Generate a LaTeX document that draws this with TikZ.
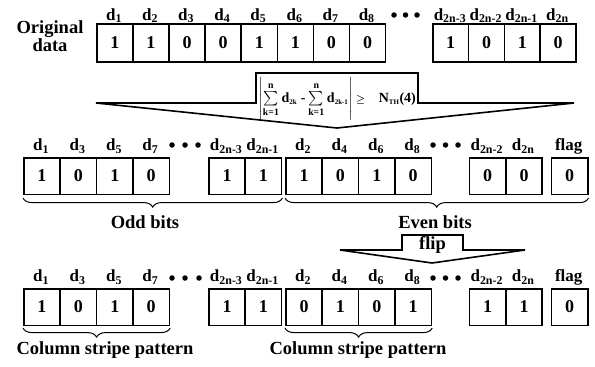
\documentclass[tikz,border=0pt]{standalone}
\usepackage{amsmath}
\usepackage{fontspec}
\setmainfont{Liberation Serif}
\usetikzlibrary{decorations.pathreplacing,calc}
\newcommand\dsub[1]{d\textsubscript{#1}}
\newcommand\bt[1]{\text{\bfseries #1}}
\newsavebox\frmbox
\begin{document}
\sbox\frmbox{\fontsize{14}{16}\selectfont\bfseries\boldmath
  $\textstyle\Biggl\vert\sum\limits_{\bt{k=1}}^{\bt{n}}\bt{d}_{\scriptscriptstyle\bt{2k}}\ \bt{-}\sum\limits_{\bt{k=1}}^{\bt{n}}\bt{d}_{\scriptscriptstyle\bt{2k-1}}\Biggr\vert\,{\scriptstyle\geq}\;\;\; \bt{N}_{\scriptscriptstyle\bt{TH}}\bt{(4)}$}%
\begin{tikzpicture}[x=1pt,y=-1pt,
  bitbox/.style={draw, line width=1.6pt, minimum width=36.4pt, minimum height=36.5pt, anchor=north west, inner sep=0pt, font=\fontsize{18}{20}\selectfont\bfseries},
  lab/.style={font=\fontsize{17}{19}\selectfont\bfseries, inner sep=0pt, anchor=base},
  bdot/.style={circle, fill=black, inner sep=0pt, minimum size=5.5pt},
  brc/.style={decorate, decoration={brace, mirror, amplitude=9pt}, line width=1pt},
  txt/.style={font=\fontsize{18.5}{21}\selectfont\bfseries, inner sep=0pt, anchor=base, align=center},
  bigarrow/.style={draw, line width=1.6pt, fill=white, line join=miter}]
\useasboundingbox (0,0) rectangle (595,367);

% ---------- top row ----------
\node[txt, anchor=center] (orig) at (50,36) {Original\\[-3pt]data};
\foreach \v [count=\i] in {1,1,0,0,1,1,0,0} {
  \node[bitbox, minimum width=36.1pt, minimum height=38pt] (o\i) at ({96+36.1*(\i-1)},23) {\v};
  \node[lab] (ol\i) at ({96+36.1*(\i-1)+18},20) {\dsub{\i}};
}
\foreach \v/\s [count=\i] in {1/2n-3,0/2n-2,1/2n-1,0/2n} {
  \node[bitbox, minimum width=35.8pt, minimum height=38pt] (r\i) at ({432+35.8*(\i-1)},23) {\v};
  \node[lab] (rl\i) at ({432+35.8*(\i-1)+18},20) {\dsub{\s}};
}
\foreach \x [count=\i] in {394,405.5,417} \node[bdot] (td\i) at (\x,15) {};

% ---------- big arrow ----------
\draw[bigarrow] (256,73) -- (418,73) -- (418,103) -- (574,103) -- (337,128) -- (96,103) -- (256,103) -- cycle;
\node[inner sep=0pt] (formula) at (337,99) {\usebox\frmbox};

% ---------- middle row ----------
\foreach \v/\s [count=\i] in {1/1,0/3,1/5,0/7} {
  \node[bitbox] (a\i) at ({23+36.4*(\i-1)},157) {\v};
  \node[lab] (al\i) at ({23+36.4*(\i-1)+18.2},150.5) {\dsub{\s}};
}
\foreach \v/\s [count=\i] in {1/2n-3,1/2n-1} {
  \node[bitbox] (b\i) at ({208+36.4*(\i-1)},157) {\v};
  \node[lab] (bl\i) at ({208+36.4*(\i-1)+18.2},150.5) {\dsub{\s}};
}
\foreach \v/\s [count=\i] in {1/2,0/4,1/6,0/8} {
  \node[bitbox] (c\i) at ({285+36.4*(\i-1)},157) {\v};
  \node[lab] (cl\i) at ({285+36.4*(\i-1)+18.2},150.5) {\dsub{\s}};
}
\foreach \v/\s [count=\i] in {0/2n-2,0/2n} {
  \node[bitbox] (e\i) at ({468.6+36.4*(\i-1)},157) {\v};
  \node[lab] (el\i) at ({468.6+36.4*(\i-1)+18.2},150.5) {\dsub{\s}};
}
\node[bitbox] (flagA) at (550.5,157) {0};
\node[lab] (flagAl) at (568.7,150.5) {flag};
\foreach \x [count=\i] in {172,185,198} \node[bdot] (md\i) at (\x,145) {};
\foreach \x [count=\i] in {433,445.5,458} \node[bdot] (me\i) at (\x,145) {};

\draw[brc] ($(a1.south west)+(0,3)$) -- ($(b2.south east)+(0,3)$);
\draw[brc] ($(c1.south west)+(0,3)$) -- ($(flagA.south east)+(0,3)$);
\node[txt] (odd) at (145,228) {Odd bits};
\node[txt] (even) at (435,228) {Even bits};

% ---------- flip arrow ----------
\draw[bigarrow] (402,235) -- (463,235) -- (463,250) -- (525,250) -- (432,263) -- (340,250) -- (402,250) -- cycle;
\node[txt] (flip) at (432.5,249) {flip};

% ---------- bottom row ----------
\foreach \v/\s [count=\i] in {1/1,0/3,1/5,0/7} {
  \node[bitbox] (p\i) at ({23+36.4*(\i-1)},288) {\v};
  \node[lab] (pl\i) at ({23+36.4*(\i-1)+18.2},281.5) {\dsub{\s}};
}
\foreach \v/\s [count=\i] in {1/2n-3,1/2n-1} {
  \node[bitbox] (q\i) at ({208+36.4*(\i-1)},288) {\v};
  \node[lab] (ql\i) at ({208+36.4*(\i-1)+18.2},281.5) {\dsub{\s}};
}
\foreach \v/\s [count=\i] in {0/2,1/4,0/6,1/8} {
  \node[bitbox] (s\i) at ({285+36.4*(\i-1)},288) {\v};
  \node[lab] (sl\i) at ({285+36.4*(\i-1)+18.2},281.5) {\dsub{\s}};
}
\foreach \v/\s [count=\i] in {1/2n-2,1/2n} {
  \node[bitbox] (u\i) at ({468.6+36.4*(\i-1)},288) {\v};
  \node[lab] (ul\i) at ({468.6+36.4*(\i-1)+18.2},281.5) {\dsub{\s}};
}
\node[bitbox] (flagB) at (550.5,288) {0};
\node[lab] (flagBl) at (568.7,281.5) {flag};
\foreach \x [count=\i] in {172,185,199} \node[bdot] (bd\i) at (\x,278) {};
\foreach \x [count=\i] in {433,445.5,458} \node[bdot] (be\i) at (\x,278) {};

\draw[brc] ($(p1.south west)+(0,2)$) -- ($(p4.south east)+(0,2)$);
\draw[brc] ($(s1.south west)+(0,2)$) -- ($(s4.south east)+(0,2)$);
\node[txt] (col1) at (105,354) {Column stripe pattern};
\node[txt] (col2) at (358,354) {Column stripe pattern};
\end{tikzpicture}
\end{document}
